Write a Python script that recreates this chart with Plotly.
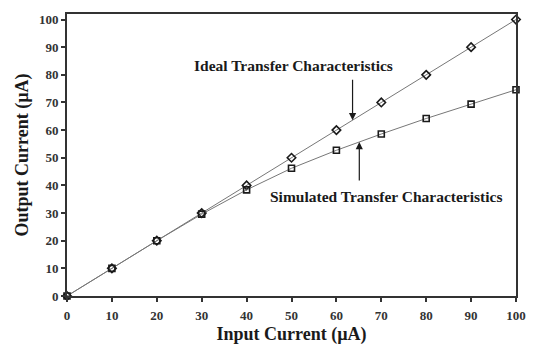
import plotly.graph_objects as go

# Input current sweep (µA)
input_current = [0, 10, 20, 30, 40, 50, 60, 70, 80, 90, 100]
# Ideal mirror output equals the input
ideal_output = [0, 10, 20, 30, 40, 50, 60, 70, 80, 90, 100]
# Simulated mirror output (µA)
simulated_output = [0, 10, 20, 29.6, 38.4, 46.2, 52.7, 58.6, 64.2, 69.4, 74.6]

x_ticks = [0, 10, 20, 30, 40, 50, 60, 70, 80, 90, 100]
y_ticks = [0, 10, 20, 30, 40, 50, 60, 70, 80, 90, 100]

serif = "Liberation Serif, Times New Roman, serif"
line_col = "#777"
ink = "#1a1a1a"

fig = go.Figure()
fig.add_trace(go.Scatter(
    x=input_current, y=ideal_output, mode="lines+markers",
    line=dict(color=line_col, width=1),
    marker=dict(symbol="diamond-open", size=6.5, color=ink, line=dict(width=1.6)),
    showlegend=False, cliponaxis=False,
))
fig.add_trace(go.Scatter(
    x=input_current, y=simulated_output, mode="lines+markers",
    line=dict(color=line_col, width=1),
    marker=dict(symbol="square-open", size=6, color=ink, line=dict(width=1.6)),
    showlegend=False, cliponaxis=False,
))

axis_common = dict(
    showgrid=False, zeroline=False, showline=True, linecolor="#333", linewidth=2,
    mirror=True, ticks="outside", ticklen=4, tickwidth=1.5, tickcolor="#333",
    tickfont=dict(family=serif, size=13, color="#333", weight="bold"),
)

fig.update_xaxes(
    range=[0, 100], tickvals=x_ticks, ticklabelstandoff=2,
    title=dict(text="Input Current (µA)",
               font=dict(family=serif, size=18, color=ink, weight="bold"), standoff=6),
    **axis_common,
)
fig.update_yaxes(
    range=[0, 102], tickvals=y_ticks, ticklabelstandoff=0,
    title=dict(text="Output Current (µA)",
               font=dict(family=serif, size=18, color=ink, weight="bold"), standoff=6),
    **axis_common,
)

# Labels with arrows pointing at each curve
fig.add_annotation(x=63.6, y=63.6, ax=0, ay=-42, showarrow=True, arrowhead=2,
                   arrowsize=1.2, arrowwidth=1.2, arrowcolor=ink, text="")
fig.add_annotation(x=50.5, y=83.5, text="Ideal Transfer Characteristics",
                   showarrow=False, font=dict(family=serif, size=15.5, color=ink, weight="bold"))
fig.add_annotation(x=65.1, y=55.7, ax=0, ay=40, showarrow=True, arrowhead=2,
                   arrowsize=1.2, arrowwidth=1.2, arrowcolor=ink, text="")
fig.add_annotation(x=71.0, y=36.0, text="Simulated Transfer Characteristics",
                   showarrow=False, font=dict(family=serif, size=15.5, color=ink, weight="bold"))

fig.update_layout(
    width=538, height=353,
    margin=dict(l=67, r=15, t=13, b=51),
    plot_bgcolor="white", paper_bgcolor="white",
)

fig.write_html("out.html")
